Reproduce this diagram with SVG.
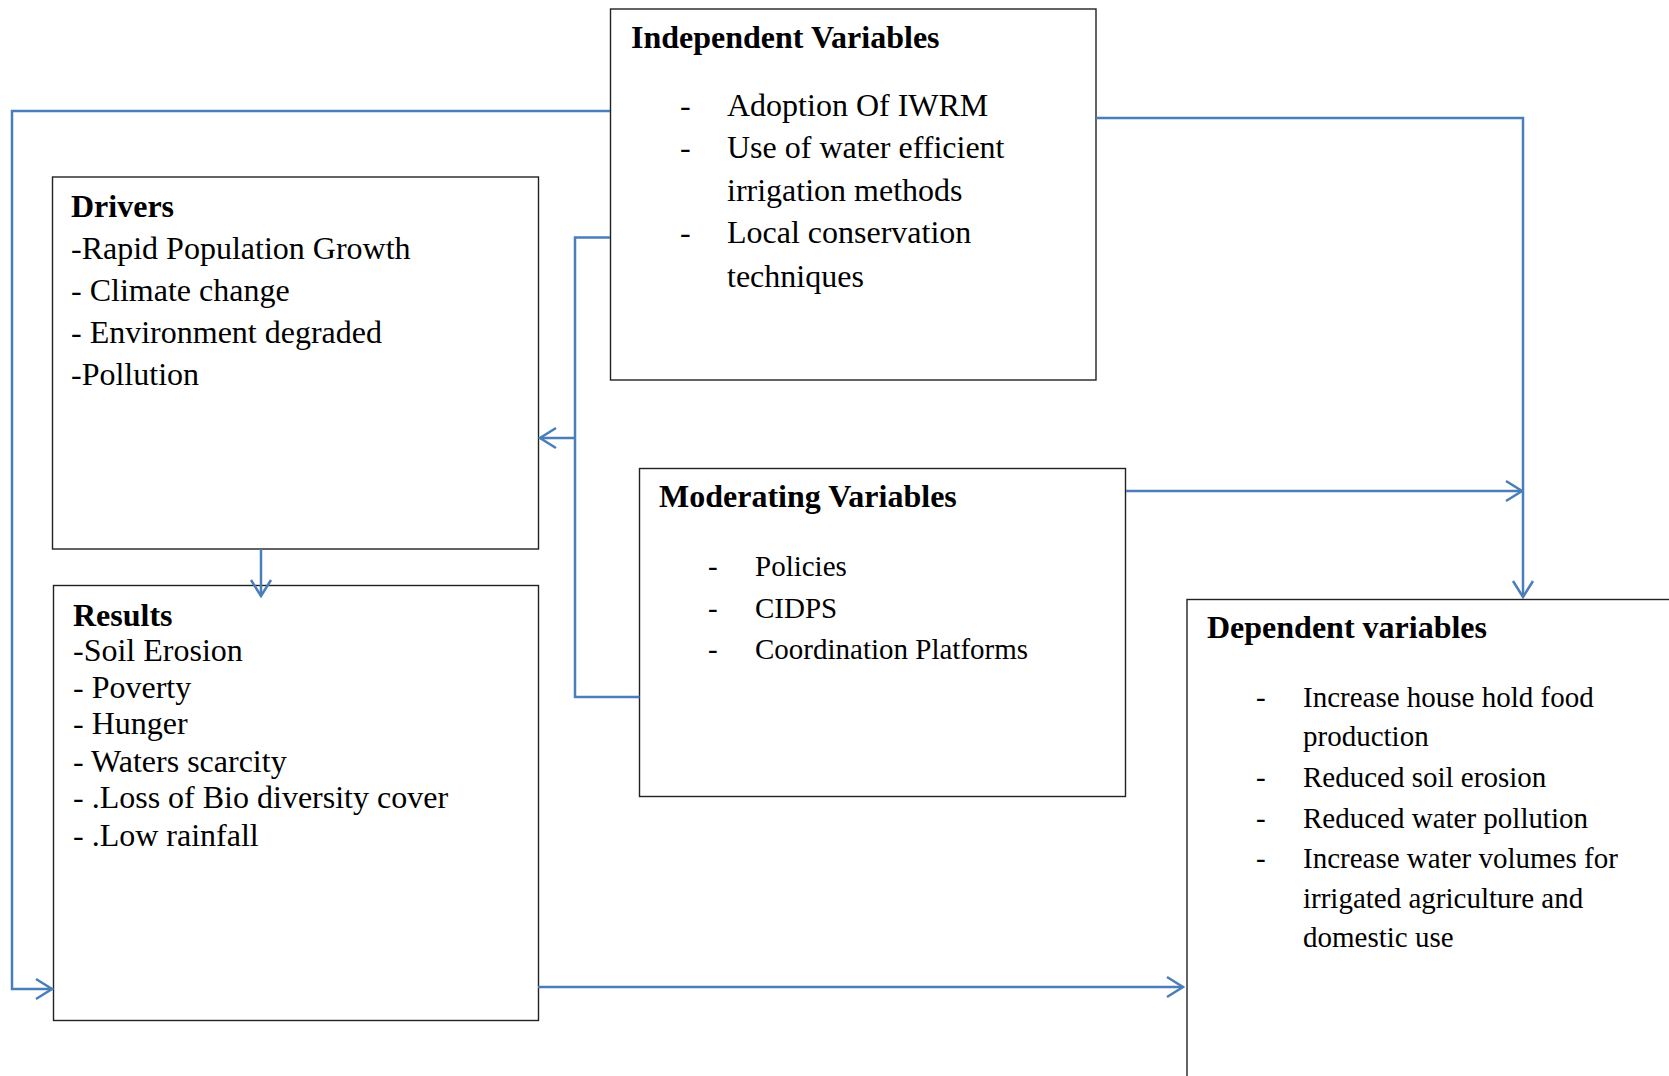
<svg xmlns="http://www.w3.org/2000/svg" width="1669" height="1076" viewBox="0 0 1669 1076">
<style>
.box{fill:#fff;stroke:#222;stroke-width:1.4}
.t{font-family:"Liberation Serif","Times New Roman",serif;fill:#000}
.h{font-weight:bold;font-size:32px}
.b32{font-size:32px}
.b29{font-size:29px}
.c{fill:none;stroke:#4A7EBB;stroke-width:2.5}
</style>
<defs>
<marker id="ah" viewBox="0 0 20 24" markerWidth="20" markerHeight="24" refX="18" refY="12" orient="auto" markerUnits="userSpaceOnUse">
<path d="M2,2 L18,12 L2,22" fill="none" stroke="#4A7EBB" stroke-width="2.5"/>
</marker>
</defs>
<rect width="1669" height="1076" fill="#fff"/>
<g id="independent">
<rect class="box" x="610.5" y="9" width="485.5" height="371"/>
<text class="t h" x="631" y="48">Independent Variables</text>
<g class="t b32">
<text x="680" y="116">-</text><text x="727" y="116">Adoption Of IWRM</text>
<text x="680" y="158">-</text><text x="727" y="158">Use of water efficient</text>
<text x="727" y="201">irrigation methods</text>
<text x="680" y="243">-</text><text x="727" y="243">Local conservation</text>
<text x="727" y="287">techniques</text>
</g>
</g>
<g id="drivers">
<rect class="box" x="52.5" y="177" width="486" height="372"/>
<text class="t h" x="71" y="217">Drivers</text>
<g class="t b32">
<text x="71" y="259">-Rapid Population Growth</text>
<text x="71" y="301">- Climate change</text>
<text x="71" y="343">- Environment degraded</text>
<text x="71" y="385">-Pollution</text>
</g>
</g>
<g id="results">
<rect class="box" x="53.5" y="585.5" width="485" height="435"/>
<text class="t h" x="73" y="626">Results</text>
<g class="t b32">
<text x="73" y="661">-Soil Erosion</text>
<text x="73" y="698">- Poverty</text>
<text x="73" y="734">- Hunger</text>
<text x="73" y="772">- Waters scarcity</text>
<text x="73" y="808">- .Loss of Bio diversity cover</text>
<text x="73" y="846">- .Low rainfall</text>
</g>
</g>
<g id="moderating">
<rect class="box" x="639.5" y="468.5" width="486" height="328"/>
<text class="t h" x="659" y="507">Moderating Variables</text>
<g class="t b29">
<text x="708" y="576">-</text><text x="755" y="576">Policies</text>
<text x="708" y="618">-</text><text x="755" y="618">CIDPS</text>
<text x="708" y="659">-</text><text x="755" y="659">Coordination Platforms</text>
</g>
</g>
<g id="dependent">
<rect class="box" x="1187" y="599.5" width="600" height="600"/>
<text class="t h" x="1207" y="638">Dependent variables</text>
<g class="t b29">
<text x="1256" y="707">-</text><text x="1303" y="707">Increase house hold food</text>
<text x="1303" y="746">production</text>
<text x="1256" y="787">-</text><text x="1303" y="787">Reduced soil erosion</text>
<text x="1256" y="828">-</text><text x="1303" y="828">Reduced water pollution</text>
<text x="1256" y="868">-</text><text x="1303" y="868">Increase water volumes for</text>
<text x="1303" y="908">irrigated agriculture and</text>
<text x="1303" y="947">domestic use</text>
</g>
</g>
<g id="connectors">
<path class="c" d="M610,111 H12 V989 H52" marker-end="url(#ah)"/>
<path class="c" d="M1096,118 H1523 V597" marker-end="url(#ah)"/>
<path class="c" d="M1126,491 H1522" marker-end="url(#ah)"/>
<path class="c" d="M610,237.5 H575 V697 H639.5"/>
<path class="c" d="M575,438 H540" marker-end="url(#ah)"/>
<path class="c" d="M261,549 V596" marker-end="url(#ah)"/>
<path class="c" d="M538,987 H1183" marker-end="url(#ah)"/>
</g>
</svg>
